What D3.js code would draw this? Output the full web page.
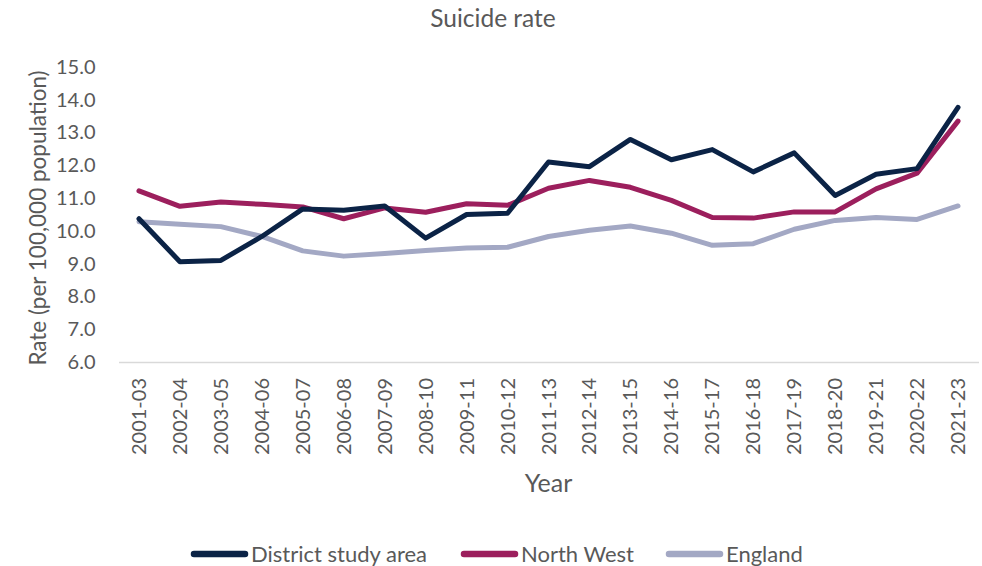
<!DOCTYPE html>
<html><head><meta charset="utf-8">
<script src="https://cdn.jsdelivr.net/npm/d3@7"></script>
<style>
html,body{margin:0;padding:0;background:#fff;}
svg text{font-family:Lato,"Open Sans",sans-serif;fill:#595959;}
</style></head>
<body><svg id="c" width="982" height="566"></svg>
<script>
const years = ["2001-03","2002-04","2003-05","2004-06","2005-07","2006-08","2007-09","2008-10","2009-11","2010-12","2011-13","2012-14","2013-15","2014-16","2015-17","2016-18","2017-19","2018-20","2019-21","2020-22","2021-23"];
const district = [10.37,9.06,9.1,9.83,10.67,10.63,10.76,9.78,10.5,10.54,12.1,11.96,12.79,12.17,12.48,11.8,12.38,11.08,11.73,11.9,13.77];
const northWest = [11.22,10.75,10.88,10.81,10.73,10.37,10.7,10.57,10.83,10.78,11.3,11.54,11.33,10.93,10.41,10.39,10.58,10.58,11.28,11.76,13.35];
const england = [10.28,10.2,10.13,9.83,9.39,9.23,9.31,9.4,9.48,9.5,9.83,10.02,10.15,9.93,9.56,9.61,10.05,10.32,10.41,10.35,10.76];
const yTicks = [6,7,8,9,10,11,12,13,14,15];
const seriesNames = ["District study area","North West","England"];
const seriesColors = ["#0b2346","#9c1f5d","#a3a8c4"];

const svg = d3.select("#c");
const x = d3.scaleBand().domain(years).range([118.5,978.5]);
const y = d3.scaleLinear().domain([6,15]).range([362,67]);
const cx = d => x(d) + x.bandwidth()/2;

svg.append("text").attr("x",493).attr("y",27).attr("text-anchor","middle")
  .style("font-size","24.5px").text("Suicide rate");

// y axis labels
const ya = svg.append("g").attr("transform","translate(118.5,0)")
  .call(d3.axisLeft(y).tickValues(yTicks).tickFormat(d3.format(".1f")).tickSize(0).tickPadding(23));
ya.select(".domain").remove();
ya.selectAll("text").style("font-size","20px").style("fill","#595959").style("font-family","Lato,sans-serif");

// x axis
const xa = svg.append("g").attr("transform","translate(0,362)")
  .call(d3.axisBottom(x).tickSize(0));
xa.select(".domain").attr("stroke","#d9d9d9").attr("stroke-width",1.5);
xa.selectAll("text").attr("transform","rotate(-90)").attr("text-anchor","end")
  .attr("x",-16).attr("y",0).attr("dy","0.35em")
  .style("font-size","20px").style("fill","#595959").style("font-family","Lato,sans-serif");

svg.append("text").attr("transform","translate(46,218) rotate(-90)").attr("text-anchor","middle")
  .style("font-size","22.5px").text("Rate (per 100,000 population)");
svg.append("text").attr("x",548.5).attr("y",492).attr("text-anchor","middle")
  .style("font-size","25px").text("Year");

const line = d3.line().x((d,i)=>cx(years[i])).y(d=>y(d));
const data = [district, northWest, england];
[2,1,0].forEach(k=>{
  svg.append("path").datum(data[k]).attr("d",line).attr("fill","none")
    .attr("stroke",seriesColors[k]).attr("stroke-width",5)
    .attr("stroke-linejoin","round").attr("stroke-linecap","round");
});

// legend
const legX = [194,464,669];
seriesNames.forEach((n,i)=>{
  svg.append("line").attr("x1",legX[i]).attr("x2",legX[i]+51).attr("y1",554).attr("y2",554)
    .attr("stroke",seriesColors[i]).attr("stroke-width",6.5).attr("stroke-linecap","round");
  svg.append("text").attr("x",legX[i]+57).attr("y",554).attr("dy","0.36em")
    .style("font-size","22px").text(n);
});
</script></body></html>
